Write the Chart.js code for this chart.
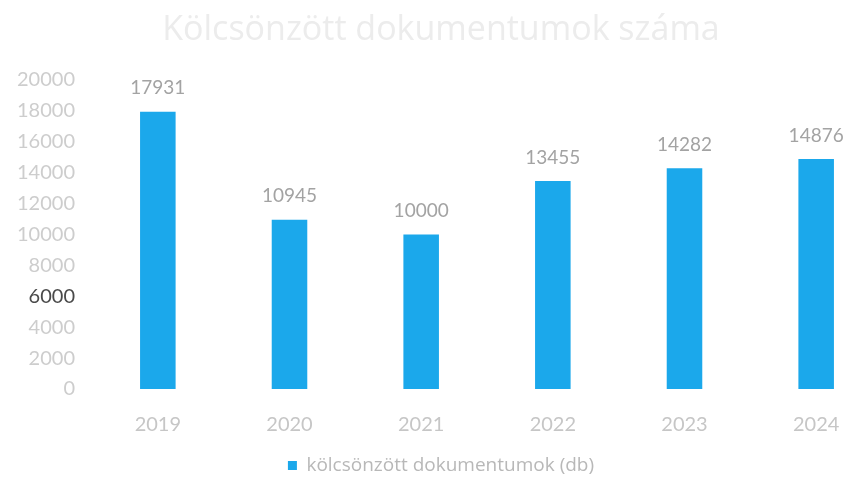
<!DOCTYPE html>
<html>
<head>
<meta charset="utf-8">
<script src="https://cdn.jsdelivr.net/npm/chart.js@4"></script>
<style>
  html, body { margin: 0; padding: 0; background: #fff; overflow: hidden; }
  #wrap { width: 900px; height: 485px; }
</style>
</head>
<body>
<div id="wrap"><canvas id="chart" width="900" height="485"></canvas></div>
<script>
const years = ['2019', '2020', '2021', '2022', '2023', '2024']
const loans = [17931, 10945, 10000, 13455, 14282, 14876]
const yMax = 20000
const yStep = 2000

const valueLabels = {
  id: 'valueLabels',
  afterDatasetsDraw(chart) {
    const ctx = chart.ctx
    const meta = chart.getDatasetMeta(0)
    ctx.save()
    ctx.font = '19px Lato'
    ctx.fillStyle = '#a3a3a3'
    ctx.textAlign = 'center'
    ctx.textBaseline = 'bottom'
    meta.data.forEach((bar, i) => {
      ctx.fillText(String(loans[i]), bar.x, bar.y - 14)
    })
    ctx.restore()
  }
}

new Chart(document.getElementById('chart'), {
  type: 'bar',
  data: {
    labels: years,
    datasets: [{
      label: 'kölcsönzött dokumentumok (db)',
      data: loans,
      backgroundColor: '#1ba8eb',
      categoryPercentage: 1,
      barPercentage: 0.27
    }]
  },
  plugins: [valueLabels],
  options: {
    responsive: false,
    animation: false,
    layout: {
      padding: { top: 10, right: 18, left: 0, bottom: 0 }
    },
    plugins: {
      title: {
        display: true,
        text: 'Kölcsönzött dokumentumok száma',
        color: '#ececec',
        font: { family: 'Open Sans', size: 34, weight: 'normal' },
        padding: { top: 0, bottom: 29 }
      },
      legend: {
        position: 'bottom',
        labels: {
          color: '#b8b8b8',
          font: { family: 'Open Sans', size: 19 },
          boxWidth: 9,
          boxHeight: 9,
          padding: 4
        }
      },
      tooltip: { enabled: false }
    },
    scales: {
      x: {
        grid: { display: false, drawTicks: false },
        border: { display: false },
        ticks: {
          color: '#c6c6c6',
          font: { family: 'Lato', size: 20 },
          padding: 24
        },
        afterFit(scale) {
          scale.height -= 9
        }
      },
      y: {
        min: 0,
        max: yMax,
        grid: { display: false, drawTicks: false },
        border: { display: false },
        ticks: {
          stepSize: yStep,
          color: ctx => ctx.tick.value === 6000 ? '#4a4a4a' : '#cdcdcd',
          font: { family: 'Lato', size: 20 },
          padding: 17,
          callback: value => String(value)
        }
      }
    }
  }
})
</script>
</body>
</html>
